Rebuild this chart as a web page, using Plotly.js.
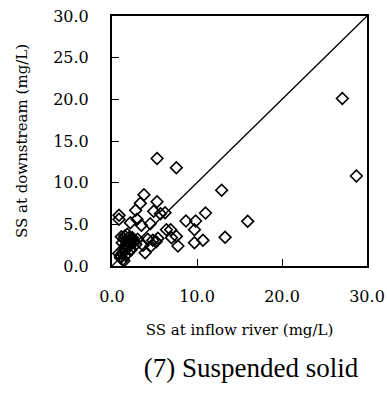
<!DOCTYPE html>
<html>
<head>
<meta charset="utf-8">
<script src="https://cdn.plot.ly/plotly-3.0.1.min.js"></script>
<style>html,body{margin:0;padding:0;background:#fff;}#chart{width:387px;height:419px;}</style>
</head>
<body>
<div id="chart"></div>
<script>
// SS at inflow river (mg/L)
var inflowSS = [27.1, 28.75, 5.3, 7.57, 12.9, 15.96, 13.3, 11.0, 9.84, 8.7, 9.7, 9.7, 10.7, 7.76, 7.57, 6.9, 7.0, 6.4, 6.24, 5.7,
  5.3, 4.9, 3.76, 3.33, 2.78, 2.94, 2.16, 3.45, 4.5, 0.82, 0.82, 5.4, 4.8, 4.2, 3.65, 4.6, 3.9, 5.2,
  1.0, 1.2, 1.3, 1.5, 1.6, 1.8, 2.0, 2.1, 2.3, 2.5, 1.1, 1.4, 1.7, 1.9, 2.2, 2.4, 1.0, 1.3, 1.6, 1.9, 2.2,
  0.8, 1.5, 1.8, 2.0, 2.6, 2.8, 3.0, 1.2, 1.4];
// SS at downstream (mg/L)
var downstreamSS = [20.1, 10.8, 12.9, 11.8, 9.1, 5.36, 3.44, 6.36, 5.4, 5.4, 4.36, 2.8, 3.08, 2.4, 3.56, 4.36, 3.4, 4.36, 6.4, 6.28,
  7.72, 6.56, 8.56, 7.52, 6.68, 5.6, 5.2, 4.88, 5.08, 6.08, 5.6, 3.32, 3.08, 3.2, 2.48, 2.4, 1.6, 2.92,
  1.2, 1.5, 2.0, 1.8, 2.5, 2.2, 3.0, 2.6, 3.2, 2.8, 3.5, 3.3, 3.0, 2.4, 2.0, 3.4, 1.0, 0.8, 1.3, 1.6, 1.9,
  1.5, 3.6, 3.8, 3.4, 3.0, 2.6, 3.2, 2.8, 0.6];
var lineX = [0, 30];
var lineY = [0, 30];
var tickVals = [0, 5, 10, 15, 20, 25, 30];
var tickText = ['0.0', '5.0', '10.0', '15.0', '20.0', '25.0', '30.0'];
var xTickVals = [0, 10, 20, 30];
var xTickText = ['0.0', '10.0', '20.0', '30.0'];

var serif = 'DejaVu Serif, serif';

var traces = [
  {x: lineX, y: lineY, mode: 'lines', type: 'scatter', line: {color: '#000', width: 1.3}, hoverinfo: 'skip', showlegend: false},
  {x: inflowSS, y: downstreamSS, mode: 'markers', type: 'scatter',
   marker: {symbol: 'diamond-open', size: 9, color: '#000', line: {color: '#000', width: 1.6}}, showlegend: false}
];

var layout = {
  width: 387, height: 419,
  margin: {l: 112, r: 20, t: 16, b: 153},
  paper_bgcolor: '#fff', plot_bgcolor: '#fff',
  showlegend: false,
  title: {text: '(7) Suspended solid', font: {family: 'Liberation Serif, serif', size: 27, color: '#000'},
          xref: 'paper', x: 0.545, xanchor: 'center', yref: 'container', y: 0.122, yanchor: 'middle'},
  xaxis: {
    range: [0, 30], tickvals: xTickVals, ticktext: xTickText,
    showgrid: false, zeroline: false, showline: true, linecolor: '#000', linewidth: 2, mirror: true,
    ticks: 'inside', ticklen: 7, tickcolor: '#000', tickwidth: 1,
    ticklabelstandoff: 15,
    tickfont: {family: serif, size: 16, color: '#000'},
    title: {text: 'SS at inflow river (mg/L)', font: {family: serif, size: 15, color: '#000'}, standoff: 19},
    automargin: false, fixedrange: true
  },
  yaxis: {
    range: [0, 30], tickvals: tickVals, ticktext: tickText,
    showgrid: false, zeroline: false, showline: true, linecolor: '#000', linewidth: 2, mirror: true,
    ticks: 'inside', ticklen: 7, tickcolor: '#000', tickwidth: 1,
    ticklabelstandoff: 18,
    tickfont: {family: serif, size: 16, color: '#000'},
    title: {text: 'SS at downstream (mg/L)', font: {family: serif, size: 15, color: '#000'}, standoff: 22},
    automargin: false, fixedrange: true
  }
};

Plotly.newPlot('chart', traces, layout, {displayModeBar: false, staticPlot: true});
</script>
</body>
</html>
